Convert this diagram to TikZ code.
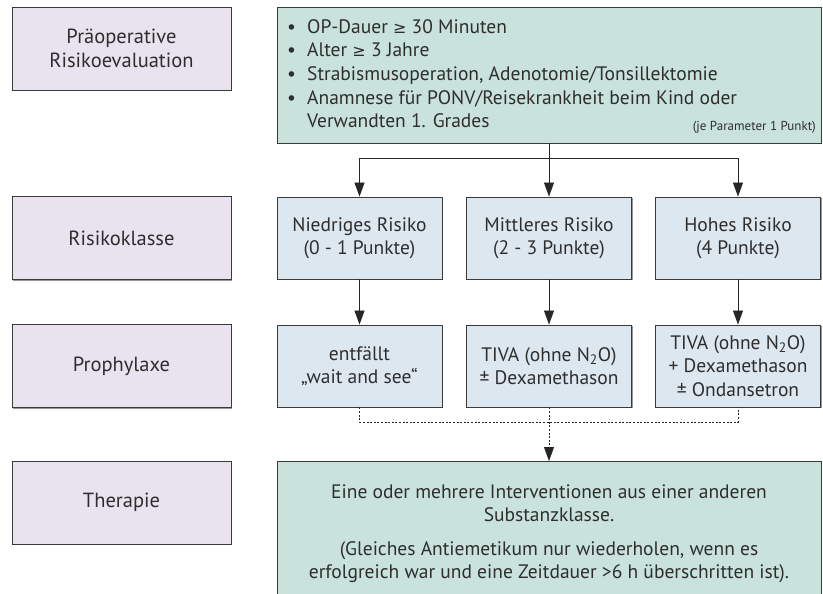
\documentclass[tikz,border=0pt]{standalone}
\usepackage{fontspec}
\setmainfont{PT Sans}
\newfontfamily\symf{DejaVu Sans}[Scale=0.82]
\newcommand{\mygeq}{{\symf ≥}}
\usetikzlibrary{arrows.meta,shadows}
\definecolor{lav}{HTML}{E9E2EF}
\definecolor{grn}{HTML}{C9E2DC}
\definecolor{blu}{HTML}{DDE7F0}
\definecolor{bord}{HTML}{3A3A3A}
\definecolor{txt}{HTML}{2E2E2E}
\begin{document}
\begin{tikzpicture}[x=1pt,y=-1pt,
  basebox/.style={draw=bord, line width=0.9pt, inner sep=0pt, align=center,
    text=txt, font=\fontsize{19.5}{23.5}\selectfont,
    drop shadow={shadow xshift=1.3pt, shadow yshift=-1.3pt, fill=black!40, opacity=1}},
  lbox/.style={basebox, fill=lav, minimum width=219pt, minimum height=83pt,
    font=\fontsize{20.5}{24}\selectfont},
  mbox/.style={basebox, fill=blu, minimum width=165pt, minimum height=82pt},
  gbox/.style={basebox, fill=grn, minimum width=544pt},
  arr/.style={-{Triangle[length=14pt,width=10pt]}},
  conn/.style={draw=black!85, line width=0.8pt},
  dotl/.style={conn, dash pattern=on 2pt off 1.6pt}
]
\useasboundingbox (0,0) rectangle (823,594);
% left column
\node[lbox] (l1) at (121.5,48.5) {Präoperative\\Risikoevaluation};
\node[lbox] (l2) at (121.5,238) {Risikoklasse};
\node[lbox] (l3) at (121.5,366) {Prophylaxe};
\node[lbox] (l4) at (121.5,502.5) {Therapie};
% top green box
\node[gbox, minimum height=136pt] (top) at (549,75) {};
\node[anchor=north west, align=left, inner sep=0pt, text=txt,
  font=\fontsize{19.5}{23.7}\selectfont] (toptext) at (287,19)
  {\makebox[20pt][l]{\textbullet}OP-Dauer \mygeq{} 30 Minuten\\
   \makebox[20pt][l]{\textbullet}Alter \mygeq{} 3 Jahre\\
   \makebox[20pt][l]{\textbullet}Strabismusoperation, Adenotomie/Tonsillektomie\\
   \makebox[20pt][l]{\textbullet}Anamnese für PONV/Reisekrankheit beim Kind oder\\
   \makebox[20pt][l]{}Verwandten 1. Grades};
\node[anchor=south east, inner sep=0pt, text=txt,
  font=\fontsize{13}{15}\selectfont] (jep) at (816,134) {(je Parameter 1 Punkt)};
% risk classes
\node[mbox] (r1) at (359.5,238) {Niedriges Risiko\\(0 - 1 Punkte)};
\node[mbox] (r2) at (549,238) {Mittleres Risiko\\(2 - 3 Punkte)};
\node[mbox] (r3) at (738,238) {Hohes Risiko\\(4 Punkte)};
% prophylaxis
\node[mbox] (p1) at (359.5,366) {entfällt\\„wait and see“};
\node[mbox] (p2) at (549,366) {TIVA (ohne N\textsubscript{2}O)\\± Dexamethason};
\node[mbox] (p3) at (738,366) {TIVA (ohne N\textsubscript{2}O)\\+ Dexamethason\\± Ondansetron};
% therapy
\node[gbox, minimum height=150pt, anchor=north] (th) at (549,461) {};
\node[align=center, inner sep=0pt, text=txt, anchor=north,
  font=\fontsize{19.5}{23.5}\selectfont] (thtext) at (549,484)
  {Eine oder mehrere Interventionen aus einer anderen\\Substanzklasse.\\[10pt]
   (Gleiches Antiemetikum nur wiederholen, wenn es\\erfolgreich war und eine Zeitdauer >6 h überschritten ist).};
% connectors
\coordinate (s) at (549,158);
\draw[conn] (top.south) -- (s);
\draw[conn,arr] (s) -| (r1.north);
\draw[conn,arr] (s) -- (r2.north);
\draw[conn,arr] (s) -| (r3.north);
\draw[conn,arr] (r1.south) -- (p1.north);
\draw[conn,arr] (r2.south) -- (p2.north);
\draw[conn,arr] (r3.south) -- (p3.north);
\coordinate (d1) at (359.5,422);
\coordinate (d3) at (738,422);
\draw[dotl] (p1.south) -- (d1) -- (d3) -- (p3.south);
\draw[dotl,arr] (p2.south) -- (th.north);
\end{tikzpicture}
\end{document}
